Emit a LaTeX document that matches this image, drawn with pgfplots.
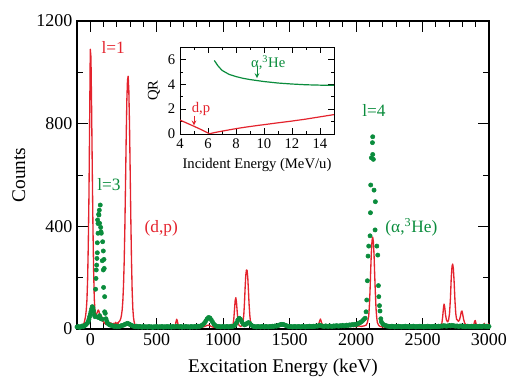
\documentclass[border=0pt]{standalone}
\usepackage{fontspec}
\setmainfont{Liberation Serif}
\usepackage{pgfplots}
\pgfplotsset{compat=1.18}

\definecolor{specred}{RGB}{228,35,45}
\definecolor{specgreen}{RGB}{10,140,60}

\begin{document}
\begin{tikzpicture}
\useasboundingbox (-57.75pt,-46.5pt) rectangle (336.75pt,246.75pt);

% main spectrum
\begin{axis}[
  at={(0pt,0pt)}, anchor=south west,
  scale only axis, width=309pt, height=231pt,
  xmin=-100, xmax=3000, ymin=0, ymax=1200,
  xtick={0,500,...,3000}, minor x tick num=4,
  ytick={0,400,800,1200}, minor y tick num=1,
  tick align=inside,
  major tick length=8pt, minor tick length=4.5pt,
  tick style={black, line width=0.6pt},
  axis line style={line width=0.8pt},
  /pgf/number format/assume math mode=true,
  /pgf/number format/1000 sep={},
  tick label style={font=\fontsize{13.5}{15}\selectfont},
  label style={font=\fontsize{14.5}{16}\selectfont},
  xlabel={Excitation Energy (keV)},
  ylabel={Counts},
  x label style={at={(axis description cs:0.5,-0.127)}, anchor=center},
  y label style={at={(axis description cs:-0.141,0.5)}, anchor=center},
]
% (alpha,3He) spectrum, dots
\addplot[only marks, mark=*, mark size=1.6pt, color=specgreen] coordinates {
(-100,8) (-90,10) (-80,6) (-70,9) (-60,12) (-50,10) (-40,14) (-30,18) (-20,24)
(-15,30) (-10,38) (-5,48) (0,58) (5,68) (10,78) (15,87) (20,82) (25,70) (30,55) (35,48)
(40,155) (43,197) (45,230) (48,249) (50,275) (53,297) (53,336) (55,425) (58,373) (58,411)
(63,447) (65,444) (68,463) (70,412) (75,483) (78,396) (80,379) (83,373) (90,266) (93,340)
(98,304) (98,230) (100,162) (103,271) (105,236) (108,126) (113,61) (108,67) (118,40) (125,30)
(60,45) (70,52) (80,40) (90,38) (130,22)
(140,18) (150,15) (160,14) (170,12) (180,10) (190,12) (200,9) (210,11) (220,10) (230,12)
(240,14) (250,15) (260,18) (270,20) (280,22) (290,20) (300,17) (310,14) (320,12) (330,10)
(340,9) (350,11) (360,8) (370,10) (380,9) (390,7) (400,10) (410,8) (420,9) (430,7)
(440,10) (450,8) (460,9) (470,6) (480,9) (490,8) (500,10) (510,7) (520,9) (530,8)
(540,10) (550,7) (560,9) (570,8) (580,10) (590,8) (600,9) (610,7) (620,10) (630,8)
(640,9) (650,11) (660,9) (670,8) (680,10) (690,7) (700,9) (710,8) (720,10) (730,8)
(740,9) (750,7) (760,10) (770,8) (780,9) (790,10) (800,8) (810,11) (820,10) (830,12)
(840,14) (850,18) (860,24) (870,32) (880,40) (890,45) (900,43) (910,36) (920,27) (930,19)
(940,14) (950,11) (960,9) (970,10) (980,8) (990,9) (1000,10) (1010,8) (1020,9) (1030,10)
(1040,8) (1050,9) (1060,11) (1070,10) (1080,12) (1090,16) (1100,24) (1110,35) (1120,42) (1130,38)
(1140,28) (1150,20) (1160,16) (1170,18) (1180,22) (1190,25) (1200,22) (1210,16) (1220,12) (1230,10)
(1240,9) (1250,8) (1260,10) (1270,9) (1280,8) (1290,10) (1300,9) (1310,8) (1320,10) (1330,9)
(1340,8) (1350,10) (1360,9) (1370,11) (1380,10) (1390,12) (1400,11) (1410,13) (1420,15) (1430,17)
(1440,18) (1450,18) (1460,16) (1470,14) (1480,12) (1490,10) (1500,9) (1510,10) (1520,8) (1530,9)
(1540,10) (1550,8) (1560,9) (1570,10) (1580,8) (1590,9) (1600,10) (1610,9) (1620,8) (1630,10)
(1640,9) (1650,11) (1660,10) (1670,9) (1680,11) (1690,10) (1700,12) (1710,11) (1720,13) (1730,14)
(1740,12) (1750,11) (1760,10) (1770,12) (1780,11) (1790,10) (1800,12) (1810,11) (1820,10) (1830,12)
(1840,11) (1850,13) (1860,12) (1870,11) (1880,13) (1890,12) (1900,14) (1910,12) (1920,13) (1930,15)
(1940,14) (1950,16) (1960,15) (1970,17) (1980,16) (1990,18) (2000,17) (2010,20) (2020,22) (2030,25)
(2040,28) (2050,33) (2060,38)
(2068,42) (2075,67) (2080,113) (2085,188) (2090,284) (2095,323) (2105,363) (2108,453) (2110,561) (2115,667)
(2123,726) (2125,749) (2125,680) (2130,661) (2135,541) (2145,496) (2143,386) (2156,323) (2163,288) (2168,169)
(2171,126) (2176,91) (2180,70) (2186,40)
(2190,28) (2200,20) (2210,16) (2220,14) (2230,12) (2240,11) (2250,10) (2260,9) (2270,11) (2280,10)
(2290,8) (2300,10) (2310,9) (2320,11) (2330,10) (2340,8) (2350,10) (2360,9) (2370,11) (2380,9)
(2390,10) (2400,8) (2410,10) (2420,9) (2430,11) (2440,10) (2450,8) (2460,10) (2470,9) (2480,11)
(2490,9) (2500,10) (2510,8) (2520,10) (2530,9) (2540,11) (2550,10) (2560,8) (2570,10) (2580,9)
(2590,11) (2600,10) (2610,9) (2620,11) (2630,10) (2640,12) (2650,11) (2660,13) (2670,12) (2680,11)
(2690,12) (2700,13) (2710,12) (2720,14) (2730,13) (2740,12) (2750,11) (2760,12) (2770,10) (2780,11)
(2790,12) (2800,10) (2810,11) (2820,9) (2830,10) (2840,11) (2850,9) (2860,10) (2870,11) (2880,9)
(2890,10) (2900,11) (2910,9) (2920,10) (2930,11) (2940,9) (2950,10) (2960,12) (2970,10) (2980,11)
(2990,9) (3000,10)
};
% (d,p) spectrum, line
\addplot[color=specred, line width=1pt, line join=round] coordinates {
(-100,6) (-95,9) (-90,5) (-85,8) (-80,12) (-75,7) (-70,10) (-65,14) (-60,11) (-55,16)
(-50,20) (-45,26) (-40,38) (-35,52) (-30,75) (-25,115) (-20,195) (-15,330) (-10,520) (-5,800)
(0,1090) (5,1060) (10,860) (15,620) (20,400) (25,230) (30,120) (35,70) (40,52) (45,55)
(50,62) (55,68) (60,74) (65,70) (70,58) (75,48) (80,52) (85,50) (90,40) (95,30)
(100,28) (105,22) (110,25) (115,18) (120,20) (125,24) (130,16) (135,19) (140,22) (145,15)
(150,18) (155,24) (160,20) (165,14) (170,18) (175,22) (180,17) (185,20) (190,26) (195,21)
(200,18) (205,24) (210,22) (215,28) (220,30) (225,35) (230,42) (235,55) (240,75) (245,110)
(250,170) (255,260) (260,390) (265,560) (270,740) (275,890) (280,970) (285,985) (290,930) (295,800)
(300,620) (305,430) (310,270) (315,150) (320,80) (325,45) (330,28) (335,18) (340,12) (350,10)
(360,8) (370,6) (380,9) (390,7) (400,6) (420,4) (440,7) (460,5) (480,8) (500,6)
(520,4) (540,7) (560,5) (580,6) (600,8) (620,6) (630,9) (640,14) (645,28) (650,38)
(655,32) (660,18) (665,10) (670,7) (690,5) (710,6) (730,4) (750,6) (770,5) (790,7)
(810,5) (830,6) (850,8) (860,10) (870,12) (880,14) (890,15) (900,13) (910,10) (920,8)
(940,6) (960,5) (980,7) (1000,6) (1020,8) (1040,7) (1060,9) (1070,12) (1075,20) (1080,40)
(1085,75) (1090,110) (1095,122) (1100,105) (1105,70) (1110,38) (1115,20) (1120,14) (1130,10) (1140,12)
(1145,18) (1150,30) (1155,55) (1160,100) (1165,160) (1170,210) (1175,230) (1180,228) (1185,200) (1190,150)
(1195,95) (1200,55) (1205,30) (1210,18) (1220,10) (1240,7) (1260,6) (1280,5) (1300,7) (1320,5)
(1340,6) (1360,8) (1380,6) (1400,7) (1420,9) (1440,12) (1450,13) (1460,12) (1480,8) (1500,6)
(1520,5) (1540,7) (1560,5) (1580,6) (1600,7) (1620,5) (1640,6) (1660,8) (1680,6) (1700,9)
(1715,14) (1725,30) (1732,39) (1740,25) (1750,12) (1760,8) (1780,7) (1800,6) (1820,8) (1840,7)
(1860,9) (1880,8) (1900,10) (1920,8) (1940,9) (1960,11) (1980,10) (2000,9) (2020,12) (2040,10)
(2060,12) (2075,15) (2085,25) (2095,50) (2100,90) (2105,150) (2110,230) (2115,300) (2120,345) (2125,358)
(2130,340) (2135,290) (2140,210) (2145,140) (2150,80) (2155,45) (2160,25) (2170,14) (2180,10) (2200,8)
(2220,7) (2240,6) (2260,9) (2270,10) (2280,7) (2300,5) (2320,6) (2340,5) (2360,7) (2380,5)
(2400,6) (2420,5) (2440,7) (2460,5) (2480,6) (2500,5) (2520,6) (2540,4) (2560,6) (2580,5)
(2600,7) (2620,8) (2635,10) (2645,20) (2652,50) (2658,85) (2662,97) (2667,85) (2673,55) (2680,35)
(2688,28) (2695,32) (2703,60) (2710,120) (2716,200) (2722,245) (2727,253) (2732,235) (2738,180) (2744,110)
(2750,60) (2756,38) (2762,35) (2770,30) (2778,35) (2785,50) (2792,68) (2797,70) (2803,55) (2810,35)
(2818,22) (2826,18) (2835,14) (2845,12) (2855,10) (2865,12) (2875,10) (2885,15) (2892,30) (2897,33)
(2903,20) (2910,12) (2920,10) (2930,8) (2940,12) (2950,15) (2958,10) (2965,22) (2972,10) (2980,12)
(2988,8) (2995,20) (3000,14)
};
\node[font=\fontsize{13}{15}\selectfont, text=specred] at (axis cs:173,1095) {l=1};
\node[font=\fontsize{13}{15}\selectfont, text=specgreen] at (axis cs:141,561) {l=3};
\node[font=\fontsize{13}{15}\selectfont, text=specred] at (axis cs:534,392) {(d,p)};
\node[font=\fontsize{13}{15}\selectfont, text=specgreen] at (axis cs:2135,851) {l=4};
\node[font=\fontsize{13}{15}\selectfont, text=specgreen] at (axis cs:2416,395) {(α,\textsuperscript{3}He)};
\end{axis}

% inset: Q value vs incident energy
\begin{axis}[
  at={(77.25pt,146.25pt)}, anchor=south west,
  scale only axis, width=115.5pt, height=65.25pt,
  xmin=4, xmax=15, ymin=0, ymax=7,
  xtick={4,6,...,14}, minor x tick num=1,
  ytick={0,2,4,6}, minor y tick num=1,
  tick align=inside,
  major tick length=4.5pt, minor tick length=2.5pt,
  tick style={black, line width=0.5pt},
  axis line style={line width=0.7pt},
  axis background/.style={fill=white},
  /pgf/number format/assume math mode=true,
  tick label style={font=\fontsize{11}{12}\selectfont},
  label style={font=\fontsize{11}{12}\selectfont},
  xlabel={Incident Energy (MeV/u)},
  ylabel={QR},
  x label style={at={(axis description cs:0.5,-0.356)}, anchor=center},
  y label style={at={(axis description cs:-0.169,0.5)}, anchor=center},
]
\addplot[color=specred, line width=0.9pt, line join=round] coordinates {
(4,1.12) (4.5,0.87) (5,0.62) (5.5,0.36) (6.1,0.02) (6.5,0.12) (7,0.23) (7.5,0.33)
(8,0.43) (8.5,0.52) (9,0.6) (9.5,0.68) (10,0.75) (11,0.9) (12,1.04) (13,1.2) (14,1.38) (15,1.56)
};
\addplot[color=specgreen, line width=0.9pt, line join=round] coordinates {
(6.45,5.92) (6.7,5.5) (7,5.12) (7.5,4.8) (8,4.62) (8.5,4.48) (9,4.38) (9.5,4.3)
(10,4.22) (11,4.1) (12,4.02) (13,3.96) (14,3.93) (15,3.92)
};
\draw[->, >=stealth, color=specred, line width=0.6pt] (axis cs:5.0,1.45) -- (axis cs:5.0,0.7);
\draw[->, >=stealth, color=specgreen, line width=0.6pt] (axis cs:9.5,5.35) -- (axis cs:9.5,4.5);
\node[font=\fontsize{11}{12}\selectfont, text=specred] at (axis cs:5.5,2.05) {d,p};
\node[font=\fontsize{11}{12}\selectfont, text=specgreen] at (axis cs:10.3,5.76) {α,\textsuperscript{3}He};
\end{axis}
\end{tikzpicture}
\end{document}
